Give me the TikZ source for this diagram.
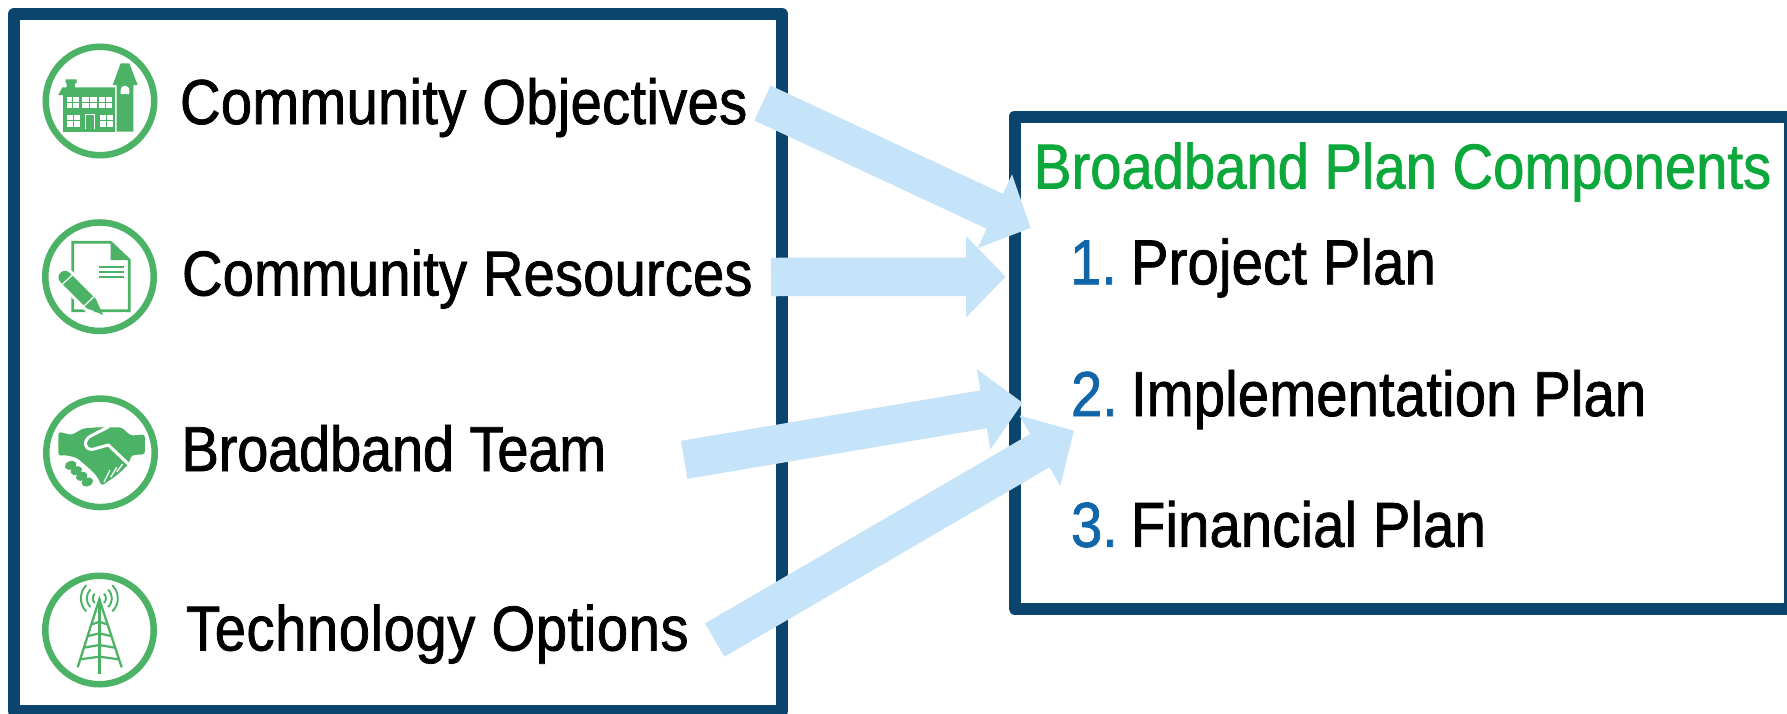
\documentclass[tikz,border=0pt]{standalone}
\usepackage{fontspec}
\setmainfont[FakeStretch=0.885,FakeBold=1.2]{Liberation Sans}
\usetikzlibrary{arrows.meta}
\definecolor{navy}{HTML}{0B456E}
\definecolor{flow}{HTML}{C5E3F9}
\definecolor{iconG}{HTML}{4CB265}
\definecolor{titleG}{HTML}{0DA83B}
\definecolor{numB}{HTML}{1166AA}
\tikzset{
  panel/.style={draw=navy,line width=12pt,line join=round,fill=white,rectangle,inner sep=0pt,outer sep=0pt},
  label/.style={anchor=base west,inner sep=0pt,outer sep=0pt,font=\fontsize{63.5}{70}\selectfont,text=black},
  heading/.style={label,text=titleG},
  num/.style={label,text=numB},
  ring/.style={circle,draw=iconG,line width=6.5pt,fill=white,inner sep=0pt,minimum size=108.5pt},
  flowarrow/.style={draw=flow,line width=38.5pt,-{Triangle[length=39.6pt,width=79pt,fill=flow]}},
  icon/.style={x=0.33333pt,y=-0.33333pt}
}
\newcommand{\winpane}[4]{%
  \fill[white] (#1,#2) rectangle (#3,#4);
  \draw[iconG,line width=1pt] ({(#1+#3)/2},#2) -- ({(#1+#3)/2},#4) ({#1},{(#2+#4)/2}) -- ({#3},{(#2+#4)/2});
}
\newcommand{\spaced}[2]{{\addfontfeatures{LetterSpace=#1}#2}}
\begin{document}
\begin{tikzpicture}[x=1pt,y=-1pt]
\useasboundingbox (0,0) rectangle (1787,713);
\clip (0,0) rectangle (1787,713);
\fill[white] (0,0) rectangle (1787,713);
% panels
\node[panel,minimum width=768pt,minimum height=697pt] (inputs) at (398,362.5) {};
\node[panel,minimum width=775.5pt,minimum height=492pt] (plan) at (1402.25,362.5) {};
% icon rings
\node[ring] (i1) at (100,101) {};
\node[ring] (i2) at (99.5,276.7) {};
\node[ring] (i3) at (100.5,452.8) {};
\node[ring] (i4) at (99.5,630) {};
% school
\begin{scope}[icon]
\fill[iconG] (175,285) -- (187,262) -- (200,262) -- (200,250) -- (197,250) -- (197,238) -- (230,238) -- (230,250) -- (225,250) -- (225,262) -- (345,262) -- (345,285) -- (338,285) -- (338,395) -- (190,395) -- (190,285) -- cycle;
\fill[iconG] (190,285) rectangle (345,395);
\fill[iconG] (338,255) -- (362,190) -- (388,190) -- (413,255) -- (400,255) -- (400,395) -- (350,395) -- (350,255) -- cycle;
\fill[white] (362,282) -- (362,272) .. controls (362,252) and (388,252) .. (388,272) -- (388,282) -- cycle;
\winpane{200}{290}{237}{323}
\winpane{246}{290}{292}{323}
\winpane{298}{290}{337}{323}
\winpane{202}{345}{240}{380}
\winpane{300}{345}{338}{380}
\draw[white,line width=1.2pt] (256,388) -- (256,343) -- (284,343) -- (284,388);
\end{scope}
% document and pencil
\begin{scope}[icon]
\draw[iconG,line width=2.7pt,line join=miter] (218,727) -- (332,727) -- (388,780) -- (388,932) -- (218,932) -- cycle;
\fill[iconG] (332,727) -- (388,780) -- (332,780) -- cycle;
\foreach \yy in {800,815,831} \draw[iconG,line width=1.7pt] (298,\yy) -- (372,\yy);
\draw[white,line width=19pt] (195,832) -- (290,927);
\draw[iconG,line width=13pt,line cap=round] (195,832) -- (272,909);
\fill[iconG] (258,923) -- (286,895) -- (310,945) -- cycle;
\draw[white,line width=1.2pt] (188,852) -- (218,824);
\draw[white,line width=1.2pt] (250,920) -- (285,887);
\end{scope}
% handshake
\begin{scope}[icon,yshift=-360pt]
\fill[iconG,rounded corners=3pt] (175,215) -- (215,225) -- (250,205) -- (290,202) -- (340,202) -- (365,202) -- (392,227) -- (435,223) -- (435,283) -- (395,285) -- (385,313) -- (365,333) -- (345,350) -- (325,363) -- (305,378) -- (292,350) -- (270,327) -- (230,293) -- (195,285) -- (175,288) -- cycle;
\draw[white,line width=3pt,line cap=round] (325,201) -- (272,228) .. controls (250,240) and (250,270) .. (278,268) -- (325,255) -- (385,312);
\draw[white,line width=1.3pt] (312,366) -- (330,330) (332,352) -- (350,322) (350,336) -- (368,312);
\foreach \px/\py in {212/316,229/332,245/349,262/366} \fill[iconG,rotate around={20:(\px,\py)}] (\px,\py) ellipse[x radius=6pt,y radius=4.2pt];
\end{scope}
% tower
\begin{scope}[icon,yshift=-360pt,iconG]
\draw[line width=2.7pt] (298,718) -- (298,942);
\draw[line width=2.3pt] (233,922) -- (298,718) -- (365,922);
\foreach \yy/\xx in {785/22,820/34,855/46,890/58} \draw[line width=2.2pt] ({298-\xx},{\yy+8}) -- (298,\yy) -- ({298+\xx},{\yy+8});
\foreach \rr in {20,38,56} {
  \draw[line width=1.9pt] ({298-\rr*.7},{715-\rr*.7}) to[bend right=45] ({298-\rr*.7},{715+\rr*.7});
  \draw[line width=1.9pt] ({298+\rr*.7},{715-\rr*.7}) to[bend left=45] ({298+\rr*.7},{715+\rr*.7});
}
\end{scope}
% labels
\node[label] (t1) at (180,124) {\spaced{0.45}{Community Objectives}};
\node[label] (t2) at (182,295.5) {\spaced{0.2}{Community Resources}};
\node[label] (t3) at (181.5,471) {\spaced{-0.45}{Broadband Team}};
\node[label] (t4) at (186,650.5) {\spaced{0.9}{Technology Options}};
\node[heading] (head) at (1034,188.5) {Broadband Plan Components};
\node[num] (n1) at (1070,284.3) {1.};
\node[num] (n2) at (1071,416) {2.};
\node[num] (n3) at (1071,546.8) {3.};
\node[label] (p1) at (1131,284.3) {\spaced{0.3}{Project Plan}};
\node[label] (p2) at (1131,416) {\spaced{0.28}{Implementation Plan}};
\node[label] (p3) at (1131,546.8) {\spaced{0.25}{Financial Plan}};
% connectors
\coordinate (a1s) at (762.5,103);
\coordinate (a1e) at (1030.7,228);
\coordinate (a2s) at (771,277);
\coordinate (a2e) at (1005.7,276.7);
\coordinate (a3s) at (684.2,459.8);
\coordinate (a3e) at (1022.7,402.7);
\coordinate (a4s) at (714.7,640);
\coordinate (a4e) at (1074,430.7);
\draw[flowarrow] (a1s) -- (a1e);
\draw[flowarrow] (a2s) -- (a2e);
\draw[flowarrow] (a3s) -- (a3e);
\draw[flowarrow] (a4s) -- (a4e);
\end{tikzpicture}
\end{document}
